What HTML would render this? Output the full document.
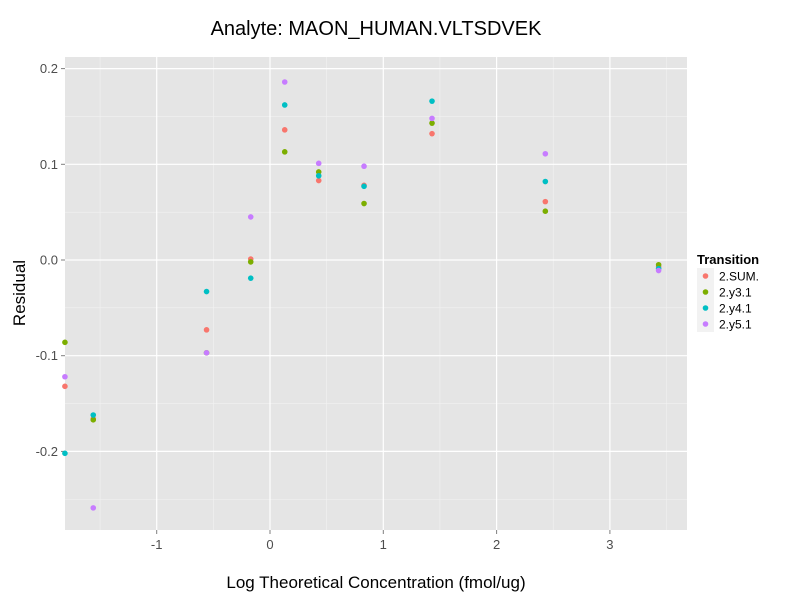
<!DOCTYPE html>
<html><head><meta charset="utf-8"><style>
body{margin:0;background:#fff;font-family:"Liberation Sans",sans-serif}
</style></head><body>
<svg id="chart" width="800" height="600" xmlns="http://www.w3.org/2000/svg">
<rect width="800" height="600" fill="#fff"/>
<text x="376" y="35" text-anchor="middle" font-size="20" fill="#000">Analyte: MAON_HUMAN.VLTSDVEK</text>
<rect x="65" y="57" width="622" height="473" fill="#e5e5e5"/>
<g id="grid"></g><g id="axes"></g><g id="pts"></g>
<text x="376" y="588" text-anchor="middle" font-size="17">Log Theoretical Concentration (fmol/ug)</text>
<text transform="translate(25,293) rotate(-90)" text-anchor="middle" font-size="17">Residual</text>
<g id="legend"></g>
</svg>
<script>
const xs=[-1.81,-1.56,-0.56,-0.17,0.13,0.43,0.83,1.43,2.43,3.43];
const seriesNames=["2.SUM.","2.y3.1","2.y4.1","2.y5.1"];
const colors=["#f8766d","#7cae00","#00bfc4","#c77cff"];
const sumVals=[-0.132,-0.166,-0.073,0.001,0.136,0.083,0.078,0.132,0.061,-0.007];
const y3Vals=[-0.086,-0.167,-0.097,-0.002,0.113,0.092,0.059,0.143,0.051,-0.005];
const y4Vals=[-0.202,-0.162,-0.033,-0.019,0.162,0.088,0.077,0.166,0.082,-0.009];
const y5Vals=[-0.122,-0.259,-0.097,0.045,0.186,0.101,0.098,0.148,0.111,-0.011];
const xTicks=[-1,0,1,2,3];
const yTicks=[-0.2,-0.1,0.0,0.1,0.2];
const yTickLabels=["-0.2","-0.1","0.0","0.1","0.2"];
const NS="http://www.w3.org/2000/svg";
const X=v=>270+v*113.3, Y=v=>260-v*957;
function mk(t,a,p){const e=document.createElementNS(NS,t);for(const k in a)e.setAttribute(k,a[k]);p.appendChild(e);return e;}
const g=document.getElementById('grid'),ax=document.getElementById('axes'),pts=document.getElementById('pts');
for(let i=0;i<=xTicks.length;i++){const v=xTicks[0]-0.5+i;const x=X(v);if(x>65&&x<687){const l=mk('line',{x1:x,x2:x,y1:57,y2:530,stroke:'#f2f2f2','stroke-width':0.6},g);}}
for(let i=0;i<=yTicks.length;i++){const v=yTicks[0]-0.05+i*0.1;const y=Y(v);if(y>57&&y<530){const l=mk('line',{x1:65,x2:687,y1:y,y2:y,stroke:'#f2f2f2','stroke-width':0.6},g);}}
xTicks.forEach(v=>{const x=X(v);const l=mk('line',{x1:x,x2:x,y1:57,y2:530,stroke:'#fff','stroke-width':1.2},g);
const t=mk('line',{x1:x,x2:x,y1:530,y2:534,stroke:'#7f7f7f'},ax);
const tx=mk('text',{x:x,y:549,'text-anchor':'middle','font-size':13,fill:'#4d4d4d'},ax);tx.textContent=String(v);});
yTicks.forEach((v,i)=>{const y=Y(v);const l=mk('line',{x1:65,x2:687,y1:y,y2:y,stroke:'#fff','stroke-width':1.2},g);
const t=mk('line',{x1:61,x2:65,y1:y,y2:y,stroke:'#7f7f7f'},ax);
const tx=mk('text',{x:58,y:y+4.5,'text-anchor':'end','font-size':13,fill:'#4d4d4d'},ax);tx.textContent=yTickLabels[i];});
[sumVals,y3Vals,y4Vals,y5Vals].forEach((vals,s)=>{vals.forEach((v,i)=>{const c=mk('circle',{cx:X(xs[i]),cy:Y(v),r:2.8,fill:colors[s]},pts);});});
const lg=document.getElementById('legend');
const lt=mk('text',{x:697,y:264,'font-size':13,'font-weight':'bold'},lg);lt.textContent='Transition';
seriesNames.forEach((n,i)=>{const y=268+i*16;
const r=mk('rect',{x:697,y:y,width:17,height:16,fill:'#f2f2f2'},lg);
const c=mk('circle',{cx:705.5,cy:y+8,r:2.8,fill:colors[i]},lg);
const t=mk('text',{x:719,y:y+12.5,'font-size':12},lg);t.textContent=n;});
</script>
</body></html>
